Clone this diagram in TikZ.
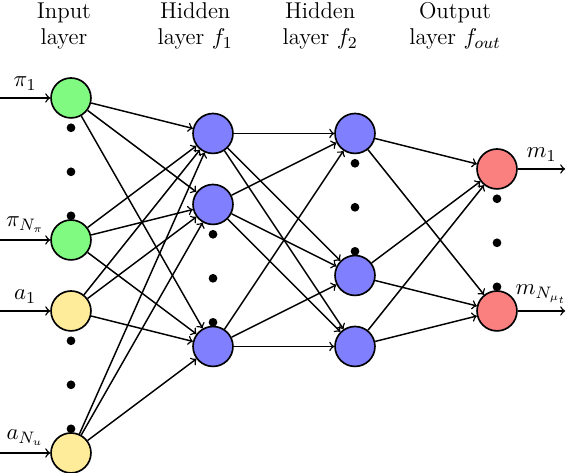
\documentclass[tikz,border=0pt]{standalone}
\usepackage{tikz}
\usetikzlibrary{calc}
\definecolor{ingreen}{RGB}{128,250,128}
\definecolor{inyellow}{RGB}{255,236,155}
\definecolor{hidblue}{RGB}{128,128,255}
\definecolor{outred}{RGB}{250,128,128}

\begin{document}
\begin{tikzpicture}[x=1.2cm,y=1.2cm,
		every node/.style={font=\fontsize{11}{12.5}\selectfont},
		neuron/.style={circle,draw,line width=0.8pt,minimum size=19.2pt,inner sep=0pt},
		link/.style={->,line width=0.7pt},
		heading/.style={align=center}]
		%%%%% START %%%%%
		\useasboundingbox (0,-0.28) rectangle (8,6.38);
		
		% vertical dots (drawn before the neurons)
		\foreach \x/\y in {1/5,1/2,3/3.5,5/4.5,7/4}
			\foreach \d in {0.42,1.04,1.66}
				\fill (\x,\y-\d) circle (2.1pt);
		
		% input layer
		\node[neuron,fill=ingreen] (in1) at (1,5) {};
		\node[neuron,fill=ingreen] (in2) at (1,3) {};
		\node[neuron,fill=inyellow] (in3) at (1,2) {};
		\node[neuron,fill=inyellow] (in4) at (1,0) {};
		
		% hidden layers
		\node[neuron,fill=hidblue] (ha1) at (3,4.5) {};
		\node[neuron,fill=hidblue] (ha2) at (3,3.5) {};
		\node[neuron,fill=hidblue] (ha3) at (3,1.5) {};
		\node[neuron,fill=hidblue] (hb1) at (5,4.5) {};
		\node[neuron,fill=hidblue] (hb2) at (5,2.5) {};
		\node[neuron,fill=hidblue] (hb3) at (5,1.5) {};
		
		% output layer
		\node[neuron,fill=outred] (out1) at (7,4) {};
		\node[neuron,fill=outred] (out2) at (7,2) {};
		
		% headings
		\node[heading] (tin) at (0.90,6.01) {Input\\layer};
		\node[heading] (tha) at (2.75,6.01) {Hidden\\layer $f_1$};
		\node[heading] (thb) at (4.51,6.01) {Hidden\\layer $f_2$};
		\node[heading] (tout) at (6.41,6.01) {Output\\layer $f_{out}$};
		
		% inputs
		\coordinate (src1) at (0,5);
		\coordinate (src2) at (0,3);
		\coordinate (src3) at (0,2);
		\coordinate (src4) at (0,0);
		\draw[link] (src1) -- (in1) node[midway,above] {$\pi_1$};
		\draw[link] (src2) -- (in2) node[midway,above] {$\pi_{N_\pi}$};
		\draw[link] (src3) -- (in3) node[midway,above] {$a_1$};
		\draw[link] (src4) -- (in4) node[midway,above] {$a_{N_u}$};
		
		% outputs
		\coordinate (dst1) at (7.96,4);
		\coordinate (dst2) at (7.96,2);
		\draw[link] (out1) -- (dst1) node[midway,above] {$m_1$};
		\draw[link] (out2) -- (dst2) node[midway,above] {$m_{N_{\mu_t}}$};
		
		% connections
		\foreach \a in {in1,in2,in3,in4}
			\foreach \b in {ha1,ha2,ha3}
				\draw[link] (\a) -- (\b);
		\foreach \a in {ha1,ha2,ha3}
			\foreach \b in {hb1,hb2,hb3}
				\draw[link] (\a) -- (\b);
		\foreach \a in {hb1,hb2,hb3}
			\foreach \b in {out1,out2}
				\draw[link] (\a) -- (\b);
		
		%%%%% END %%%%%
	\end{tikzpicture}
\end{document}
